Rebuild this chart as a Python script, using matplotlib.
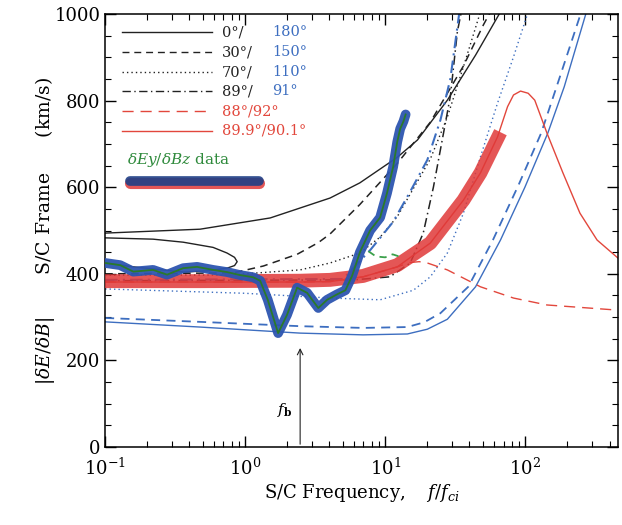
import numpy as np
import matplotlib
matplotlib.use('Agg')
import matplotlib.pyplot as plt

plt.rcParams['font.family'] = ['DejaVu Serif']
plt.rcParams['mathtext.fontset'] = 'dejavuserif'

# model curves (x = f/f_ci, y = km/s)
x_0deg = [0.1, 0.476, 1.51, 4.04, 6.59, 12.2, 17.0, 27.8, 44.2, 66.6]
y_0deg = [494, 503, 529, 575, 610, 669, 709, 801, 905, 1005]
x_loop = [0.1, 0.22, 0.361, 0.59, 0.742, 0.84, 0.877, 0.84, 0.742, 0.55, 0.361, 0.159, 0.1]
y_loop = [483, 480, 473, 461, 448, 438, 428, 419, 413, 407, 404, 416, 425]
x_30deg = [0.1, 0.821, 1.35, 2.35, 3.33, 4.04, 6.59, 12.2, 21.0, 36.2, 50.3, 56.5]
y_30deg = [400, 402, 418, 445, 472, 492, 560, 655, 750, 880, 975, 1005]
x_70deg = [0.1, 0.742, 2.47, 4.04, 6.59, 9.22, 12.2, 21.0, 27.8, 36.2, 47.9]
y_70deg = [397, 397, 409, 425, 448, 485, 532, 665, 762, 878, 1005]
x_89deg = [0.1, 6.0, 10.8, 15.1, 18.7, 22.1, 26.1, 29.2, 32.8, 35.0]
y_89deg = [384, 386, 393, 425, 494, 600, 725, 810, 960, 1005]

x_180deg = [0.1, 0.476, 2.47, 6.95, 14.4, 20.0, 27.8, 44.2, 66.6, 99.5, 145, 190, 276]
y_180deg = [289, 277, 263, 259, 261, 272, 295, 370, 478, 600, 725, 832, 1009]
x_150deg = [0.1, 0.476, 2.47, 6.95, 14.4, 19.0, 24.8, 39.2, 58.8, 89.6, 130, 174, 254]
y_150deg = [298, 289, 279, 275, 277, 288, 309, 370, 478, 605, 725, 848, 1009]
x_110deg = [0.1, 1.0, 4.04, 9.22, 15.9, 21.0, 27.8, 36.2, 47.9, 63.4, 82.5, 105]
y_110deg = [365, 355, 344, 340, 362, 393, 448, 540, 670, 794, 901, 1005]
x_91deg = [0.1, 5.0, 7.83, 11.4, 15.1, 20.0, 24.8, 29.2, 33.9]
y_91deg = [386, 388, 455, 520, 590, 663, 755, 850, 1005]

x_88deg = [0.1, 2.47, 4.04, 6.95, 12.2, 15.0, 17.5, 20.0, 27.8, 47.9, 82.5, 143, 461]
y_88deg = [381, 381, 382, 393, 416, 426, 428, 425, 409, 370, 344, 328, 316]
x_899deg = [0.1, 2.47, 4.04, 6.95, 12.2, 21.0, 36.2, 47.9, 63.4, 74.8, 82.5, 92.6,
            105, 117, 143, 186, 246, 326, 461]
y_899deg = [381, 381, 382, 393, 416, 471, 570, 633, 716, 786, 813, 822,
            817, 801, 725, 633, 540, 478, 436]

# measured data
x_data = [0.1, 0.128, 0.159, 0.22, 0.277, 0.361, 0.454, 0.59, 0.742, 0.922, 1.14,
          1.28, 1.45, 1.72, 1.99, 2.35, 2.77, 3.33, 3.85, 4.5, 5.2, 5.8, 6.6,
          7.8, 9.2, 10.3, 11.4, 12.2, 12.8, 13.5, 14.0]
y_data = [425, 420, 405, 409, 398, 413, 416, 409, 404, 397, 392,
          384, 340, 263, 305, 368, 356, 321, 340, 352, 362, 395, 450,
          500, 530, 586, 647, 705, 735, 752, 768]
x_band = [0.1, 0.476, 2.47, 4.04, 6.95, 12.2, 21.0, 36.2, 47.9, 66.6]
y_band = [383, 383, 384, 386, 395, 420, 471, 570, 633, 727]
x_green = [7.6, 8.6, 10.0, 11.3, 12.6]
y_green = [452, 440, 438, 445, 440]

f_b = 2.47

black = '#222222'
blue = '#3d6ec0'
red = '#e2473c'
green = '#2f8a3c'

fig = plt.figure(figsize=(6.22, 5.25), dpi=100)
ax = fig.add_axes([0.169, 0.1486, 0.8248, 0.8247])

ax.plot(x_band, y_band, color='#e03838', lw=10, alpha=0.85, solid_capstyle='butt', zorder=3)
ax.plot(x_data, y_data, color='#2d55b0', lw=7, alpha=0.95, solid_capstyle='round', zorder=4)
ax.plot(x_data, y_data, color='#2a7a2a', lw=1.3, zorder=5)
ax.plot(x_green, y_green, color='#3aa04a', lw=1.3, dashes=(4, 3), zorder=5)

ax.plot(x_0deg, y_0deg, color=black, lw=1.0)
ax.plot(x_loop, y_loop, color=black, lw=1.0)
ax.plot(x_30deg, y_30deg, color=black, lw=1.1, dashes=(5, 3.5))
ax.plot(x_70deg, y_70deg, color=black, lw=1.0, dashes=(1, 2.2))
ax.plot(x_89deg, y_89deg, color=black, lw=1.1, dashes=(6, 2.5, 1, 2.5))

ax.plot(x_180deg, y_180deg, color=blue, lw=1.0)
ax.plot(x_150deg, y_150deg, color=blue, lw=1.3, dashes=(5, 3.5))
ax.plot(x_110deg, y_110deg, color=blue, lw=1.0, dashes=(1, 2.2))
ax.plot(x_91deg, y_91deg, color=blue, lw=1.5, dashes=(6, 2.5, 1, 2.5))

ax.plot(x_88deg, y_88deg, color=red, lw=1.0, dashes=(8, 5))
ax.plot(x_899deg, y_899deg, color=red, lw=1.0)

ax.annotate('', xy=(f_b, 235), xytext=(f_b, 0),
            arrowprops=dict(arrowstyle='->', color=black, lw=0.8))
ax.text(1.93, 85, r'$f_\mathbf{b}$', fontsize=11, ha='center', va='center')

ax.set_xscale('log')
ax.set_xlim(0.1, 461)
ax.set_ylim(0, 1000)
ax.set_yticks([0, 200, 400, 600, 800, 1000])
ax.set_yticks(np.arange(0, 1001, 50), minor=True)
ax.tick_params(which='both', direction='in', top=True, right=True, labelsize=13)
ax.tick_params(which='major', length=8, width=1)
ax.tick_params(which='minor', length=4, width=0.8)
ax.tick_params(axis='x', pad=8)
for s in ax.spines.values():
    s.set_linewidth(1.1)

ax.set_xlabel(r'S/C Frequency,    $f/f_{ci}$', fontsize=13, labelpad=2)
ax.set_ylabel(r'$|\delta E/\delta B|$       S/C Frame      (km/s)', fontsize=13.5)
ax.yaxis.set_label_coords(-0.093, 0.5)

# legend drawn by hand
rows = [0.958, 0.912, 0.866, 0.822, 0.776, 0.730]
styles = [dict(color=black), dict(color=black, dashes=(5, 3.5)),
          dict(color=black, dashes=(1, 2.2)), dict(color=black, dashes=(6, 2.5, 1, 2.5)),
          dict(color=red, dashes=(8, 5)), dict(color=red)]
left_txt = ['0°/', '30°/', '70°/', '89°/', '88°/92°', '89.9°/90.1°']
right_txt = ['180°', '150°', '110°', '91°', '', '']
for i, yy in enumerate(rows):
    ax.plot([0.033, 0.209], [yy, yy], transform=ax.transAxes, lw=1.0, **styles[i])
    c = red if i >= 4 else black
    ax.text(0.228, yy, left_txt[i], transform=ax.transAxes, color=c,
            fontsize=10.5, va='center', ha='left')
    if right_txt[i]:
        ax.text(0.326, yy, right_txt[i], transform=ax.transAxes, color=blue,
                fontsize=10.5, va='center', ha='left')
ax.text(0.043, 0.662, r'$\delta Ey/\delta Bz$ data', transform=ax.transAxes,
        color=green, fontsize=11, va='center', ha='left')
ax.plot([0.048, 0.300], [0.610, 0.610], transform=ax.transAxes, color='#e03838',
        lw=8, alpha=0.85, solid_capstyle='round')
ax.plot([0.048, 0.300], [0.614, 0.614], transform=ax.transAxes, color='#1f3f86',
        lw=7, alpha=0.9, solid_capstyle='round')

fig.savefig('out.png', dpi=100)
